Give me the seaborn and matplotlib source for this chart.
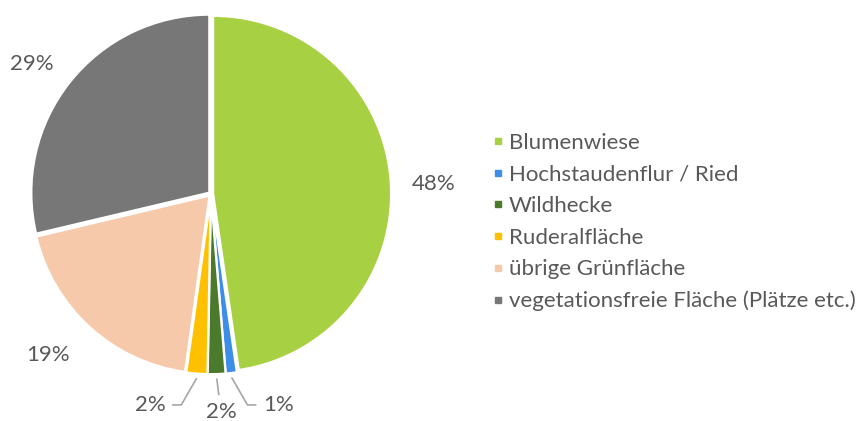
import numpy as np
import matplotlib
matplotlib.use("Agg")
import matplotlib.pyplot as plt
import seaborn as sns
from matplotlib.lines import Line2D

categories = ["Blumenwiese", "Hochstaudenflur / Ried", "Wildhecke",
              "Ruderalfläche", "übrige Grünfläche",
              "vegetationsfreie Fläche (Plätze etc.)"]
values = [47.7, 1.0, 1.6, 1.9, 19.1, 28.7]
colors = ["#A8D043", "#3D8EE8", "#4C7A2C", "#FFC000", "#F6C9AB", "#777777"]

sns.set_theme(style="white")
plt.rcParams['font.family'] = ['Lato', 'DejaVu Sans']
TXT = "#595959"
FS = 16

W, H = 859, 421
fig = plt.figure(figsize=(W / 100, H / 100), dpi=100)
R = 178.0
cx, cy = 211.0, 421 - 194.0
lim = 1.3
half = lim * R
ax = fig.add_axes([(cx - half) / W, (cy - half) / H, 2 * half / W, 2 * half / H])

wedges, _ = ax.pie(values, colors=colors, startangle=90, counterclock=False,
                   explode=[0.012] * len(values),
                   wedgeprops=dict(edgecolor="white", linewidth=1.6))
ax.set_xlim(-lim, lim)
ax.set_ylim(-lim, lim)
ax.set_aspect("equal")
ax.axis("off")

total = sum(values)
pcts = [f"{round(v / total * 100):.0f}%" for v in values]

# big slices: labels outside at a fixed radius (small pixel nudges)
nudge = {0: (-1, -6), 4: (-12, 5), 5: (-3, -9)}
for i, w in enumerate(wedges):
    th = np.deg2rad((w.theta1 + w.theta2) / 2)
    if values[i] > 5:
        r = 1.26
        ndx, ndy = nudge.get(i, (0, 0))
        ax.text(r * np.cos(th) + ndx / R, r * np.sin(th) + ndy / R, pcts[i],
                ha="center", va="center", fontsize=FS, color=TXT)

# small slices: labels below with leader lines
small = {1: ((0.38, -1.185), "angle,angleA=0,angleB=120"),
         2: ((0.056, -1.225), "arc3"),
         3: ((-0.343, -1.185), "angle,angleA=0,angleB=60")}
for i, (pos, cs) in small.items():
    w = wedges[i]
    th = np.deg2rad((w.theta1 + w.theta2) / 2)
    xy = (1.04 * np.cos(th), 1.04 * np.sin(th))
    ax.annotate(pcts[i], xy=xy, xytext=pos, ha="center", va="center",
                fontsize=FS, color=TXT,
                arrowprops=dict(arrowstyle="-", color="#A6A6A6", lw=1.2,
                                connectionstyle=cs, shrinkA=3, shrinkB=0))

handles = [Line2D([0], [0], marker="s", linestyle="none", markersize=5,
                  markerfacecolor=c, markeredgecolor=c) for c in colors]
fig.legend(handles, categories, loc="upper left",
           bbox_to_anchor=(481 / W, 1 - 122 / H), frameon=False,
           fontsize=FS, labelcolor=TXT, handletextpad=0.25,
           labelspacing=0.52, handlelength=0.5, borderpad=0)

fig.savefig("out.png", dpi=100)
